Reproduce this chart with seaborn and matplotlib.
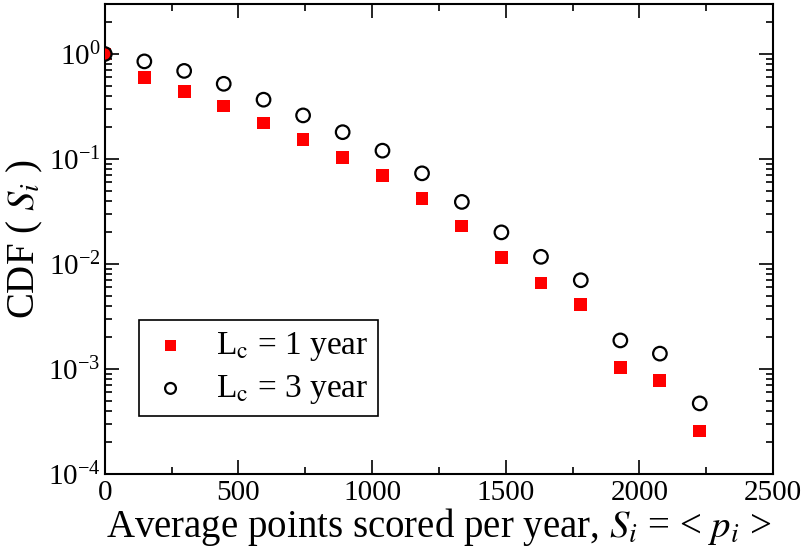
import matplotlib
matplotlib.use("Agg")
import matplotlib.pyplot as plt
import matplotlib.ticker as mticker
import seaborn as sns

# points scored bins
x_pts = [0, 148, 297, 445, 594, 742, 890, 1039, 1187, 1336, 1484, 1632, 1781, 1929, 2077, 2226]
cdf_1yr = [1.0, 0.60, 0.44, 0.32, 0.22, 0.152, 0.104, 0.069, 0.042, 0.023,
           0.0116, 0.0066, 0.0041, 0.00103, 0.00077, 0.000257]
cdf_3yr = [1.0, 0.85, 0.69, 0.52, 0.367, 0.26, 0.18, 0.12, 0.073, 0.039,
           0.020, 0.0117, 0.0070, 0.00187, 0.0014, 0.00047]

sns.set_style("ticks")
plt.rcParams["font.family"] = ["Liberation Serif", "DejaVu Serif"]
plt.rcParams["mathtext.fontset"] = "stix"
for k in ["text.color", "axes.labelcolor", "xtick.color", "ytick.color", "axes.edgecolor"]:
    plt.rcParams[k] = "black"

fig = plt.figure(figsize=(8.06, 5.55), dpi=100)
ax = fig.add_axes([0.130, 0.146, 0.829, 0.847])

sns.scatterplot(x=x_pts, y=cdf_1yr, marker="s", s=85, color="red",
                edgecolor="none", label=r"L$_\mathrm{c}$ = 1 year", ax=ax, zorder=3)
sns.scatterplot(x=x_pts, y=cdf_3yr, marker="o", s=95, facecolor="none",
                edgecolor="black", linewidth=1.6, label=r"L$_\mathrm{c}$ = 3 year", ax=ax, zorder=4)

ax.set_yscale("log")
ax.set_xlim(0, 2500)
ax.set_ylim(1e-4, 3)
ax.xaxis.set_major_locator(mticker.MultipleLocator(500))
ax.xaxis.set_minor_locator(mticker.MultipleLocator(250))
ax.yaxis.set_major_locator(mticker.LogLocator(base=10, numticks=10))
ax.yaxis.set_minor_locator(mticker.LogLocator(base=10, subs=range(2, 10), numticks=20))
ax.yaxis.set_minor_formatter(mticker.NullFormatter())

ax.tick_params(which="both", direction="in", top=True, right=True, width=1.2, labelsize=21, pad=3)
ax.tick_params(axis="x", pad=4)
ax.tick_params(which="major", length=10)
ax.tick_params(which="minor", length=5)
for sp in ax.spines.values():
    sp.set_linewidth(1.5)
    sp.set_visible(True)

ax.set_xlabel(r"Average points scored per year, $S_i$ = < $p_i$ >", fontsize=28, labelpad=0)
ax.set_ylabel(r"CDF ( $S_i$ )", fontsize=28, labelpad=2)

leg = ax.legend(loc="lower left", bbox_to_anchor=(0.051, 0.123), fontsize=24,
                frameon=True, fancybox=False, edgecolor="black", framealpha=1,
                handlelength=1.3, handletextpad=0.7, borderpad=0.3, labelspacing=0.3,
                markerscale=0.8, borderaxespad=0)
leg.get_frame().set_linewidth(1.2)

fig.savefig("out.png", dpi=100)
